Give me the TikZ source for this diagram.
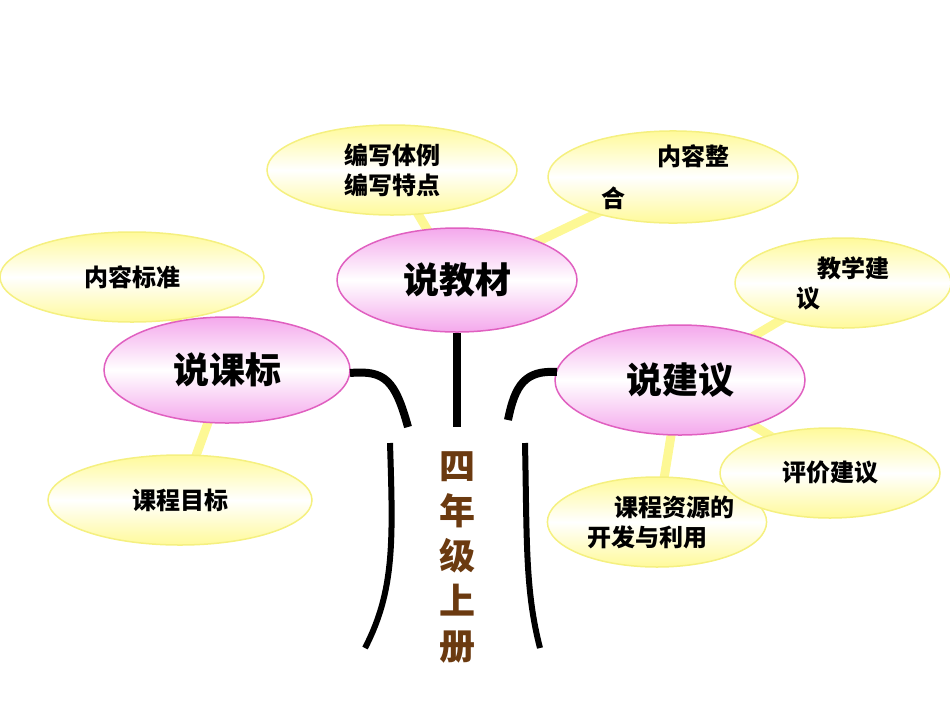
\documentclass[tikz,border=0pt]{standalone}
\usepackage{fontspec}
\newfontfamily\cjk{Noto Sans CJK SC}
\usetikzlibrary{shapes.geometric}
\definecolor{ybd}{HTML}{F5F080}
\definecolor{yfill}{HTML}{FFFA9A}
\definecolor{pbd}{HTML}{E060C0}
\definecolor{pfill}{HTML}{F4A8EC}
\definecolor{brownt}{HTML}{6B3A10}
\tikzset{
 yel/.style={ellipse,draw=ybd,line width=1.5pt,top color=yfill,bottom color=yfill,middle color=white,font=\cjk\bfseries\fontsize{24}{30}\selectfont,align=center,inner sep=0pt},
 pnk/.style={ellipse,draw=pbd,line width=1.5pt,top color=pfill,bottom color=pfill,middle color=white,font=\cjk\bfseries\fontsize{36}{40}\selectfont,inner sep=0pt},
 link/.style={draw=yfill!80!ybd,line width=9pt},
 blk/.style={line width=8pt,black}
}
\begin{document}
\begin{tikzpicture}[x=1pt,y=-1pt]
\useasboundingbox (0,0) rectangle (950,713);
% connector anchors
\coordinate (cA) at (457,280);
\coordinate (cB) at (227,370);
\coordinate (cC) at (680,380);
\draw[link] (cA) -- (392,170);
\draw[link] (cA) -- (673,177);
\draw[link] (cB) -- (132,277);
\draw[link] (cB) -- (180,500);
\draw[link] (cC) -- (843,283);
\draw[link] (cC) -- (830,473);
\draw[link] (cC) -- (657,522);
\node[yel,minimum width=250pt,minimum height=90pt] (bx) at (392,170) {编写体例\\编写特点};
\node[yel,minimum width=250pt,minimum height=90pt] (nr) at (673,177) {\hspace*{40pt}内容整\\[12pt]合\hspace*{120pt}};
\node[yel,minimum width=264pt,minimum height=90pt] (bz) at (132,277) {内容标准};
\node[yel,minimum width=264pt,minimum height=90pt] (mb) at (180,500) {课程目标};
\node[yel,minimum width=216pt,minimum height=90pt] (jx) at (843,283) {\hspace*{20pt}教学建\\议\hspace*{70pt}};
\node[yel,minimum width=214pt,minimum height=90pt] (zy) at (657,522) {\hspace*{35pt}课程资源的\\开发与利用\hspace*{20pt}};
\node[yel,minimum width=220pt,minimum height=90pt] (pj) at (830,473) {评价建议};
\node[pnk,minimum width=240pt,minimum height=104pt] (A) at (cA) {说教材};
\node[pnk,minimum width=246pt,minimum height=106pt] (B) at (cB) {说课标};
\node[pnk,minimum width=250pt,minimum height=110pt] (C) at (cC) {说建议};
% trunk
\coordinate (t1) at (457,427);
\draw[blk] (A.south) -- (t1);
\coordinate (l0) at (350,373);
\coordinate (l1) at (408,427);
\draw[blk] (l0) .. controls (385,370) and (395,380) .. (l1);
\coordinate (r0) at (557,372);
\coordinate (r1) at (508,420);
\draw[blk] (r0) .. controls (525,370) and (515,385) .. (r1);
\coordinate (lb0) at (390,443);
\coordinate (lb1) at (365,648);
\draw[line width=6pt] (lb0) .. controls (393,540) and (395,590) .. (lb1);
\coordinate (rb0) at (525,443);
\coordinate (rb1) at (540,648);
\draw[line width=6pt] (rb0) .. controls (527,540) and (525,590) .. (rb1);
\node[font=\cjk\bfseries\fontsize{36}{45}\selectfont,text=brownt,align=center,inner sep=0pt] (title) at (457,557) {四\\年\\级\\上\\册};
\end{tikzpicture}
\end{document}
